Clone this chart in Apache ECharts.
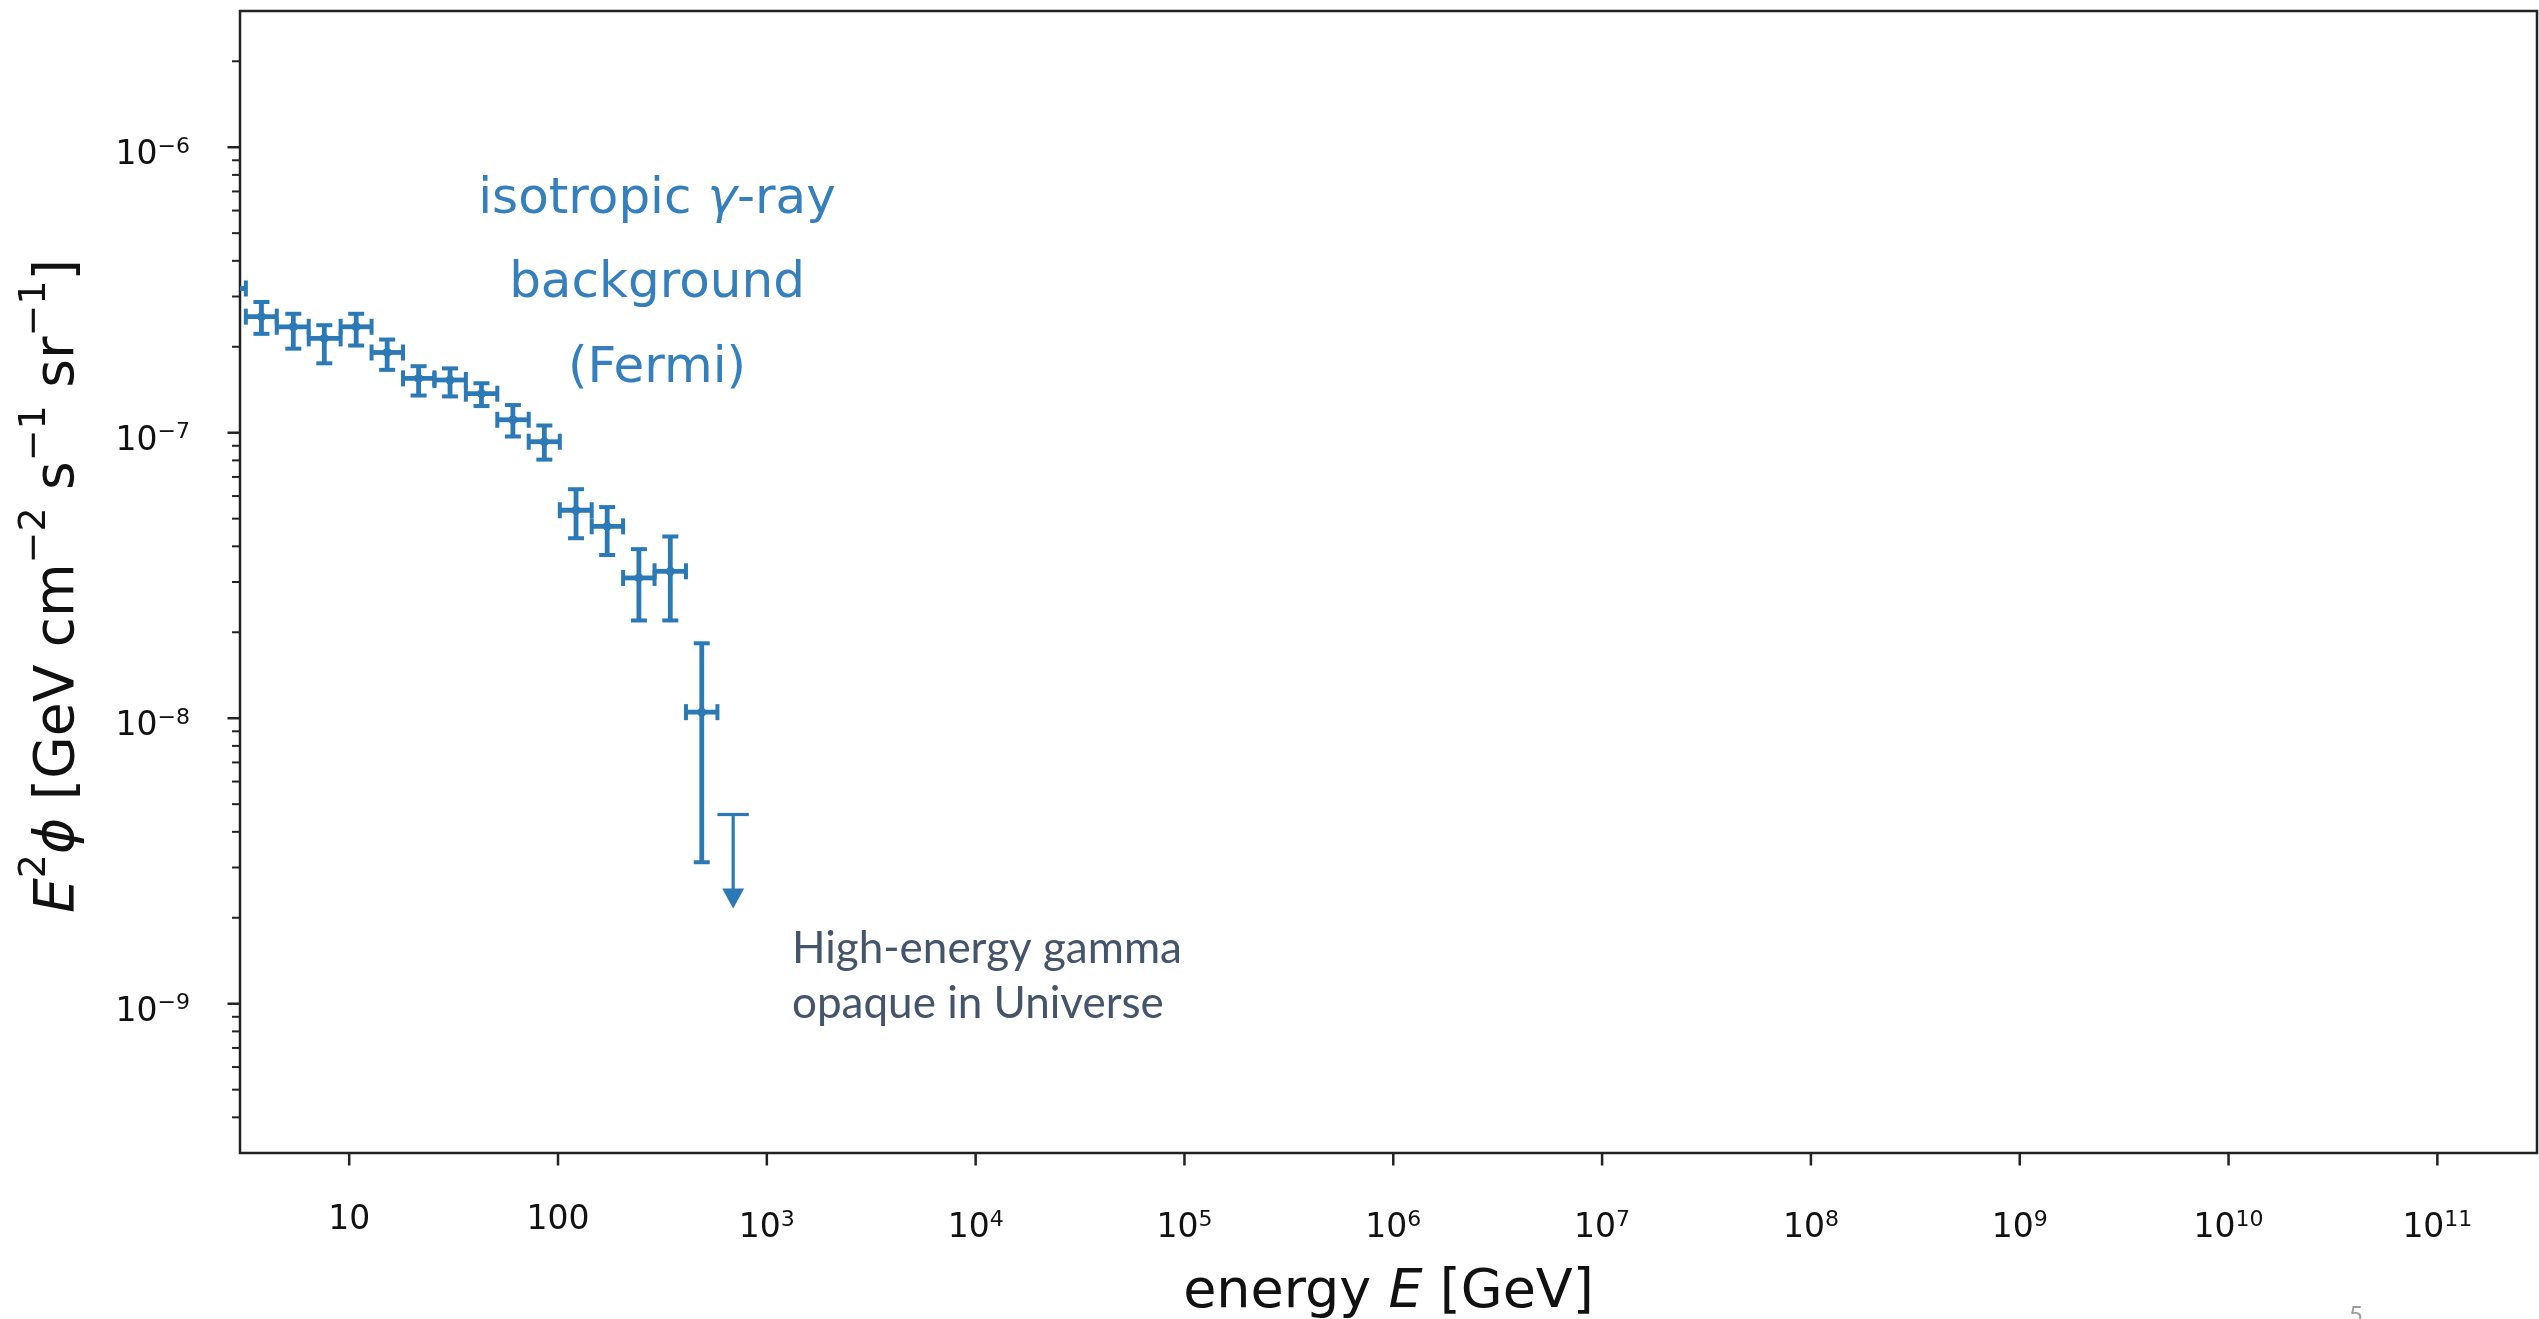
<!DOCTYPE html>
<html>
<head>
<meta charset="utf-8">
<title>Isotropic gamma-ray background</title>
<script src="https://cdn.jsdelivr.net/npm/echarts@6/dist/echarts.min.js"></script>
<style>
  html, body { margin: 0; padding: 0; background: #ffffff; }
  #chart { width: 2539px; height: 1319px; }
</style>
</head>
<body>
<div id="chart"></div>
<script>
// Fermi-LAT isotropic gamma-ray background: E^2 * flux per energy bin [GeV cm^-2 s^-1 sr^-1]
const binCenter = [2.7, 3.8, 5.4, 7.6, 10.8, 15.2, 21.5, 30.4, 43, 60.8, 86, 122, 172, 244, 345, 488];
const binLow    = [2.3, 3.2, 4.5, 6.4, 9.1, 12.8, 18.1, 25.6, 36.2, 51.2, 72.4, 102, 145, 205, 290, 410];
const binHigh   = [3.2, 4.5, 6.4, 9.1, 12.8, 18.1, 25.6, 36.2, 51.2, 72.4, 102, 145, 205, 290, 410, 580];
const flux      = [3.2e-7, 2.55e-7, 2.35e-7, 2.14e-7, 2.35e-7, 1.91e-7, 1.55e-7, 1.53e-7, 1.37e-7, 1.11e-7, 9.3e-8, 5.35e-8, 4.7e-8, 3.1e-8, 3.27e-8, 1.05e-8];
const fluxLow   = [2.9e-7, 2.22e-7, 1.97e-7, 1.75e-7, 2.02e-7, 1.66e-7, 1.35e-7, 1.34e-7, 1.24e-7, 9.7e-8, 8.05e-8, 4.27e-8, 3.73e-8, 2.2e-8, 2.2e-8, 3.13e-9];
const fluxHigh  = [3.55e-7, 2.87e-7, 2.61e-7, 2.38e-7, 2.61e-7, 2.12e-7, 1.71e-7, 1.68e-7, 1.49e-7, 1.25e-7, 1.06e-7, 6.34e-8, 5.49e-8, 3.91e-8, 4.33e-8, 1.83e-8];

// highest bin: upper limit only
const limitCenter = [690];
const limitLow    = [580];
const limitHigh   = [820];
const limitFlux   = [4.6e-9];

// axis ranges
const X_MIN = 3, X_MAX = 3e11;
const Y_MIN = 3e-10, Y_MAX = 3e-6;

// energy axis: one labelled tick per decade, [base, exponent]
const xTickValues = [10, 100, 1e3, 1e4, 1e5, 1e6, 1e7, 1e8, 1e9, 1e10, 1e11];
const xTickLabels = [['10', ''], ['100', ''], ['10', '3'], ['10', '4'], ['10', '5'], ['10', '6'],
                     ['10', '7'], ['10', '8'], ['10', '9'], ['10', '10'], ['10', '11']];
// flux axis: decades (labelled by the axis) and the 2..9 subdivisions
const yTickValues = [1e-9, 1e-8, 1e-7, 1e-6];
const yMinorTickValues = [];
[-10, -9, -8, -7, -6].forEach(function (d) {
  [2, 3, 4, 5, 6, 7, 8, 9].forEach(function (m) {
    const v = m * Math.pow(10, d);
    if (v > Y_MIN * 1.01 && v < Y_MAX * 0.99) yMinorTickValues.push(v);
  });
});

const BLUE = '#2b79b6';
const TEXT_BLUE = '#3580bc';
const INK = '#111111';
const FRAME = '#222222';
const FONT = 'DejaVu Sans';

const tickRich = {
  p: { fontSize: 33, fontFamily: FONT, fill: INK },
  b: { fontSize: 33, fontFamily: FONT, fill: INK, padding: [17, 0, 0, 0], verticalAlign: 'bottom' },
  s: { fontSize: 22, fontFamily: FONT, fill: INK, padding: [14, 0, 0, 0], verticalAlign: 'top' }
};
const axisLabelRich = {
  b: { fontSize: 33, fontFamily: FONT, color: INK, padding: [17, 0, 0, 0], verticalAlign: 'bottom' },
  s: { fontSize: 22, fontFamily: FONT, color: INK, padding: [14, 0, 0, 0], verticalAlign: 'top' }
};

const pointData = binCenter.map(function (e, i) {
  return [e, flux[i], binLow[i], binHigh[i], fluxLow[i], fluxHigh[i]];
});
const limitData = limitCenter.map(function (e, i) {
  return [e, limitFlux[i], limitLow[i], limitHigh[i]];
});

function seg(x1, y1, x2, y2, w) {
  return { type: 'line', shape: { x1: x1, y1: y1, x2: x2, y2: y2 }, style: { stroke: BLUE, lineWidth: w } };
}

const chart = echarts.init(document.getElementById('chart'), null, { renderer: 'canvas' });

chart.setOption({
  animation: false,
  backgroundColor: '#ffffff',
  textStyle: { fontFamily: FONT },
  grid: {
    left: 240, right: 2, top: 11, bottom: 166,
    show: true, borderColor: FRAME, borderWidth: 2.5,
    containLabel: false, outerBoundsMode: 'none'
  },
  xAxis: {
    type: 'log', logBase: 10, min: X_MIN, max: X_MAX,
    axisLine: { show: false }, axisTick: { show: false },
    axisLabel: { show: false }, splitLine: { show: false },
    name: '{n|energy }{i|E}{n| [GeV]}',
    nameLocation: 'middle', nameGap: 113, nameMoveOverlap: false,
    nameTextStyle: {
      rich: {
        n: { fontSize: 54, fontFamily: FONT, color: INK },
        i: { fontSize: 54, fontFamily: FONT, color: INK, fontStyle: 'italic' }
      }
    }
  },
  yAxis: {
    type: 'log', logBase: 10, min: Y_MIN, max: Y_MAX,
    axisLine: { show: false }, axisTick: { show: false }, splitLine: { show: false },
    axisLabel: {
      margin: 50, showMinLabel: false, showMaxLabel: false,
      formatter: function (v) {
        const e = Math.round(Math.log10(v));
        return '{b|10}{s|' + (e < 0 ? '\u2212' : '') + Math.abs(e) + '}';
      },
      rich: axisLabelRich
    },
    name: '{i|E}{s|2}{i|\u03d5}{n| [GeV cm}{s|\u22122}{n| s}{s|\u22121}{n| sr}{s|\u22121}{n|]}',
    nameLocation: 'middle', nameRotate: 90, nameGap: 154, nameMoveOverlap: false,
    nameTextStyle: {
      padding: [0, 8, 0, 0],
      rich: {
        n: { fontSize: 55, fontFamily: FONT, color: INK, padding: [15, 0, 0, 0], verticalAlign: 'bottom' },
        i: { fontSize: 55, fontFamily: FONT, color: INK, fontStyle: 'italic', padding: [15, 0, 0, 0], verticalAlign: 'bottom' },
        s: { fontSize: 38, fontFamily: FONT, color: INK, verticalAlign: 'top' }
      }
    }
  },
  series: [
    {
      // measured bins with energy and flux error bars
      type: 'custom', name: 'isotropic background', clip: true, z: 3,
      data: pointData,
      renderItem: function (params, api) {
        const x = api.value(0), y = api.value(1);
        const c = api.coord([x, y]);
        const l = api.coord([api.value(2), y]);
        const r = api.coord([api.value(3), y]);
        const b = api.coord([x, api.value(4)]);
        const t = api.coord([x, api.value(5)]);
        const cap = 8, bw = 4.8, cw = 4;
        return {
          type: 'group',
          children: [
            seg(l[0], c[1], r[0], c[1], bw),
            seg(c[0], t[1], c[0], b[1], bw),
            seg(l[0], c[1] - cap, l[0], c[1] + cap, cw),
            seg(r[0], c[1] - cap, r[0], c[1] + cap, cw),
            seg(c[0] - cap, t[1], c[0] + cap, t[1], cw),
            seg(c[0] - cap, b[1], c[0] + cap, b[1], cw),
            { type: 'circle', shape: { cx: c[0], cy: c[1], r: 4.5 }, style: { fill: BLUE } }
          ]
        };
      }
    },
    {
      // upper limit in the highest bin
      type: 'custom', name: 'upper limit', clip: true, z: 3,
      data: limitData,
      renderItem: function (params, api) {
        const x = api.value(0), y = api.value(1);
        const c = api.coord([x, y]);
        const l = api.coord([api.value(2), y]);
        const r = api.coord([api.value(3), y]);
        const arrowLen = 94, headH = 20, headW = 11;
        const tip = c[1] + arrowLen;
        return {
          type: 'group',
          children: [
            seg(l[0], c[1], r[0], c[1], 3.2),
            seg(c[0], c[1], c[0], tip - headH + 2, 3.2),
            {
              type: 'polygon',
              shape: { points: [[c[0] - headW, tip - headH], [c[0] + headW, tip - headH], [c[0], tip]] },
              style: { fill: BLUE }
            }
          ]
        };
      }
    },
    {
      // energy axis ticks and labels, one per decade
      type: 'custom', silent: true, clip: false, z: 4,
      data: xTickValues.map(function (v) { return [v, Y_MIN]; }),
      renderItem: function (params, api) {
        const p = api.coord([api.value(0), api.value(1)]);
        const lab = xTickLabels[params.dataIndex];
        const text = lab[1] ? '{b|' + lab[0] + '}{s|' + lab[1] + '}' : '{p|' + lab[0] + '}';
        return {
          type: 'group',
          children: [
            { type: 'line', shape: { x1: p[0], y1: p[1], x2: p[0], y2: p[1] + 12.5 },
              style: { stroke: FRAME, lineWidth: 2.5 } },
            { type: 'text', x: p[0], y: p[1] + 67,
              style: { text: text, rich: tickRich, align: 'center', verticalAlign: 'middle', fill: INK } }
          ]
        };
      }
    },
    {
      // flux axis major and minor ticks
      type: 'custom', silent: true, clip: false, z: 4,
      data: yTickValues.map(function (v) { return [X_MIN, v, 1]; })
        .concat(yMinorTickValues.map(function (v) { return [X_MIN, v, 0]; })),
      renderItem: function (params, api) {
        const p = api.coord([api.value(0), api.value(1)]);
        const major = api.value(2) === 1;
        const len = major ? 12.5 : 8;
        return {
          type: 'line',
          shape: { x1: p[0] - len, y1: p[1], x2: p[0], y2: p[1] },
          style: { stroke: FRAME, lineWidth: major ? 2.5 : 2 }
        };
      }
    }
  ],
  graphic: [
    {
      type: 'text', x: 657, y: 157.4, silent: true,
      style: {
        text: '{n|isotropic }{i|\u03b3}{n|-ray}\n{n|background}\n{n|(Fermi)}',
        align: 'center', verticalAlign: 'top', lineHeight: 84.5,
        rich: {
          n: { fontSize: 50, fontFamily: FONT, fill: TEXT_BLUE, lineHeight: 84.5 },
          i: { fontSize: 50, fontFamily: FONT, fill: TEXT_BLUE, fontStyle: 'italic', lineHeight: 84.5 }
        }
      }
    },
    {
      type: 'text', x: 792, y: 921.6, silent: true,
      style: {
        text: 'High-energy gamma\nopaque in Universe',
        fontSize: 44, fontFamily: 'Lato', fill: '#44546a',
        lineHeight: 55, align: 'left', verticalAlign: 'top'
      }
    },
    {
      type: 'text', x: 2349, y: 1303, silent: true,
      style: { text: '5', fontSize: 24, fontFamily: 'Lato', fill: '#9a9a9a', align: 'left', verticalAlign: 'top' }
    }
  ]
});
</script>
</body>
</html>
